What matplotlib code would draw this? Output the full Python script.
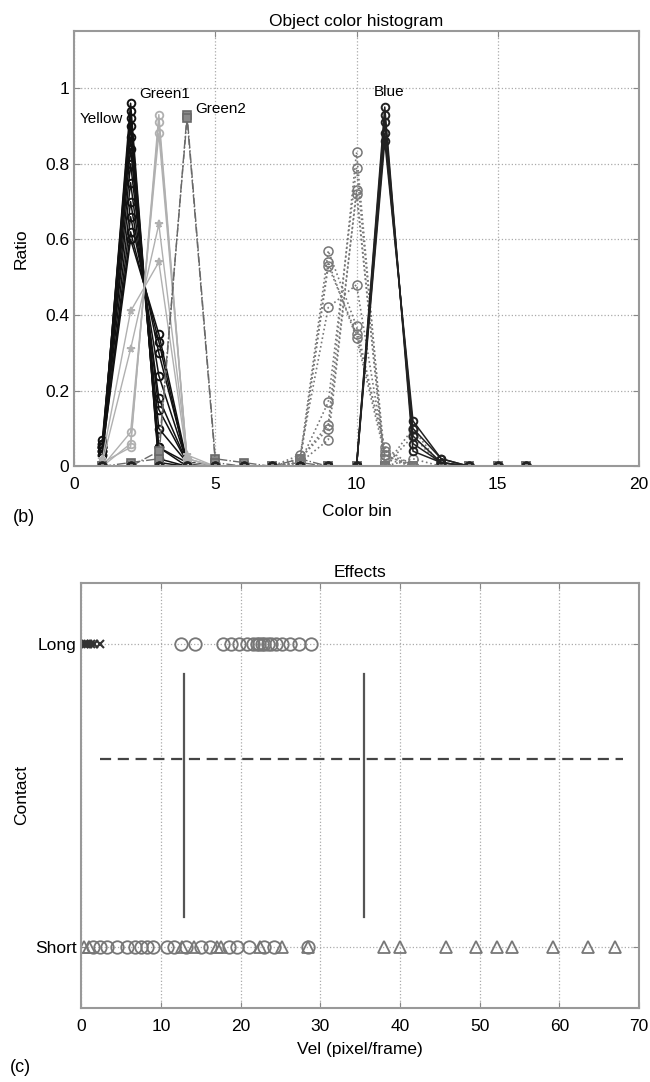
import numpy as np
import matplotlib
matplotlib.use("Agg")
import matplotlib.pyplot as plt

plt.rcParams['font.family'] = ['Liberation Sans', 'DejaVu Sans']
plt.rcParams['font.size'] = 12.5

# ---- histogram data (bins 1..16) ----
bins = np.arange(1, 17)
z = [0.0] * 12  # trailing empty bins

yellow_hists = [
    [0.04, 0.96, 0.00, 0.00] + z,
    [0.05, 0.94, 0.01, 0.00] + z,
    [0.06, 0.92, 0.02, 0.00] + z,
    [0.03, 0.90, 0.05, 0.01] + z,
    [0.07, 0.87, 0.05, 0.00] + z,
    [0.05, 0.84, 0.10, 0.01] + z,
    [0.04, 0.80, 0.15, 0.01] + z,
    [0.06, 0.75, 0.18, 0.01] + z,
    [0.05, 0.70, 0.24, 0.01] + z,
    [0.03, 0.66, 0.30, 0.01] + z,
    [0.05, 0.62, 0.33, 0.00] + z,
    [0.04, 0.60, 0.35, 0.01] + z,
]
green1_hists = [
    [0.01, 0.05, 0.93, 0.01] + z,
    [0.00, 0.06, 0.91, 0.02] + z,
    [0.01, 0.31, 0.64, 0.03] + z,
    [0.02, 0.41, 0.54, 0.02] + z,
    [0.00, 0.09, 0.88, 0.02] + z,
]
green2_hists = [
    [0.00, 0.01, 0.02, 0.93, 0.02, 0.01, 0.00, 0.01, 0.00, 0.00, 0.00, 0.00, 0.00, 0.00, 0.00, 0.00],
    [0.00, 0.00, 0.04, 0.92, 0.01, 0.00, 0.00, 0.02, 0.00, 0.00, 0.00, 0.00, 0.00, 0.00, 0.00, 0.00],
]
blue_hists = [
    [0, 0, 0, 0, 0, 0, 0, 0, 0, 0.00, 0.95, 0.04, 0.01, 0, 0, 0],
    [0, 0, 0, 0, 0, 0, 0, 0, 0, 0.00, 0.93, 0.06, 0.01, 0, 0, 0],
    [0, 0, 0, 0, 0, 0, 0, 0, 0, 0.00, 0.91, 0.08, 0.01, 0, 0, 0],
    [0, 0, 0, 0, 0, 0, 0, 0, 0, 0.00, 0.88, 0.10, 0.02, 0, 0, 0],
    [0, 0, 0, 0, 0, 0, 0, 0, 0, 0.00, 0.86, 0.12, 0.02, 0, 0, 0],
]
blue_mixed_hists = [
    [0, 0, 0, 0, 0, 0, 0, 0.02, 0.57, 0.37, 0.04, 0.00, 0, 0, 0, 0],
    [0, 0, 0, 0, 0, 0, 0, 0.01, 0.53, 0.35, 0.05, 0.00, 0, 0, 0, 0],
    [0, 0, 0, 0, 0, 0, 0, 0.03, 0.42, 0.48, 0.03, 0.00, 0, 0, 0, 0],
    [0, 0, 0, 0, 0, 0, 0, 0.01, 0.17, 0.79, 0.02, 0.00, 0, 0, 0, 0],
    [0, 0, 0, 0, 0, 0, 0, 0.02, 0.11, 0.83, 0.00, 0.02, 0, 0, 0, 0],
    [0, 0, 0, 0, 0, 0, 0, 0.01, 0.07, 0.73, 0.00, 0.10, 0, 0, 0, 0],
    [0, 0, 0, 0, 0, 0, 0, 0.02, 0.10, 0.72, 0.00, 0.08, 0, 0, 0, 0],
    [0, 0, 0, 0, 0, 0, 0, 0.01, 0.54, 0.34, 0.03, 0.00, 0, 0, 0, 0],
]

# ---- effects data ----
long_cross_vel = [0.3, 0.6, 0.9, 1.2, 1.6, 2.4]
long_circle_vel = [12.5, 14.3, 17.8, 18.8, 19.8, 20.8, 21.5, 22.0, 22.3, 22.7, 23.0,
                   23.4, 23.8, 24.5, 25.2, 26.2, 27.3, 28.8]
short_circle_vel = [1.5, 2.3, 3.2, 4.5, 5.8, 6.8, 7.5, 8.2, 9.0, 10.8, 11.6, 13.2, 15.0,
                    16.2, 18.5, 19.6, 21.0, 23.0, 24.2, 28.5]
short_tri_vel = [0.4, 1.0, 12.6, 14.2, 17.0, 17.6, 22.4, 25.2, 28.5, 38.0, 40.0, 45.8,
                 49.5, 52.2, 54.1, 59.2, 63.6, 67.0]
thresh_vel = [12.9, 35.5]
dashed_span = [2.4, 68.0]
dashed_level = 0.62

fig = plt.figure(figsize=(6.5, 10.82), dpi=100)


def style_axes(ax):
    ax.grid(True, linestyle=':', color='#aaaaaa', linewidth=0.9)
    ax.tick_params(direction='in', top=True, right=True, length=4, color='#888888')
    ax.tick_params(axis='x', pad=8)
    for s in ax.spines.values():
        s.set_color('#999999')
        s.set_linewidth(1.5)


# (b) object color histogram
ax1 = fig.add_axes([0.114, 0.569, 0.869, 0.402])
for h in yellow_hists:
    ax1.plot(bins, h, '-', color='#111111', lw=1.1, marker='o', ms=5.5, mfc='none', mew=1.4)
for h, m in zip(green1_hists, ['o', 'o', '*', '*', 'o']):
    ax1.plot(bins, h, '-', color='#b0b0b0', lw=1.0, marker=m, ms=5.5, mfc='none', mew=1.3)
for h in green2_hists:
    ax1.plot(bins, h, '-.', color='#6a6a6a', lw=1.0, marker='s', ms=5.5, mfc='#8a8a8a', mew=1.2)
for h in blue_mixed_hists:
    ax1.plot(bins, h, ':', color='#777777', lw=1.2, marker='o', ms=6.5, mfc='none', mew=1.1)
for h in blue_hists:
    ax1.plot(bins, h, '-', color='#222222', lw=1.1, marker='o', ms=5.5, mfc='none', mew=1.4)

ax1.text(0.2, 0.918, 'Yellow', fontsize=11, va='center')
ax1.text(2.3, 0.985, 'Green1', fontsize=11, va='center')
ax1.text(4.3, 0.945, 'Green2', fontsize=11, va='center')
ax1.text(10.6, 0.99, 'Blue', fontsize=11, va='center')

ax1.set_xlim(0, 20)
ax1.set_ylim(0, 1.15)
ax1.set_xticks([0, 5, 10, 15, 20])
ax1.set_yticks([0, 0.2, 0.4, 0.6, 0.8, 1])
ax1.set_yticklabels(['0', '0.2', '0.4', '0.6', '0.8', '1'])
ax1.set_title('Object color histogram', fontsize=12.5, pad=4)
ax1.set_xlabel('Color bin', labelpad=8)
ax1.set_ylabel('Ratio', labelpad=12)
style_axes(ax1)
fig.text(0.02, 0.522, '(b)', fontsize=13, va='center')

# (c) effects
ax2 = fig.add_axes([0.125, 0.0684, 0.858, 0.393])
ax2.plot(long_cross_vel, [1] * len(long_cross_vel), 'x', color='#333333', ms=6, mew=1.5)
ax2.plot(long_circle_vel, [1] * len(long_circle_vel), 'o', color='#777777', ms=9,
         mfc='none', mew=1.3)
ax2.plot(short_circle_vel, [0] * len(short_circle_vel), 'o', color='#777777', ms=9,
         mfc='none', mew=1.3)
ax2.plot(short_tri_vel, [0] * len(short_tri_vel), '^', color='#777777', ms=9,
         mfc='none', mew=1.3)
for v in thresh_vel:
    ax2.plot([v, v], [0.1, 0.9], '-', color='#555555', lw=1.6)
ax2.plot(dashed_span, [dashed_level, dashed_level], '--', color='#444444', lw=1.6,
         dashes=(5, 3))

ax2.set_xlim(0, 70)
ax2.set_ylim(-0.2, 1.2)
ax2.set_xticks(np.arange(0, 71, 10))
ax2.set_yticks([0, 1])
ax2.set_yticklabels(['Short', 'Long'])
ax2.set_title('Effects', fontsize=12.5, pad=4)
ax2.set_xlabel('Vel (pixel/frame)', labelpad=6)
ax2.set_ylabel('Contact')
style_axes(ax2)
fig.text(0.015, 0.013, '(c)', fontsize=13, va='center')

fig.savefig('out.png', dpi=100)
